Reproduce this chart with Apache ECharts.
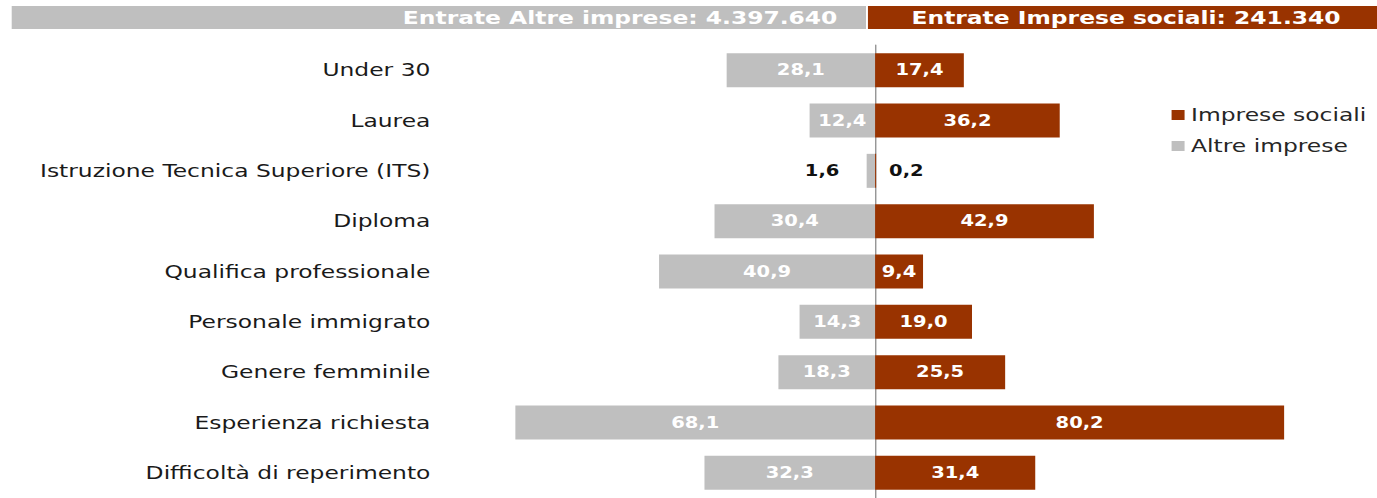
<!DOCTYPE html>
<html>
<head>
<meta charset="utf-8">
<script src="https://cdn.jsdelivr.net/npm/echarts@6/dist/echarts.min.js"></script>
<style>
  html, body { margin: 0; padding: 0; background: #fff; overflow: hidden; }
  /* il grafico originale e' stirato in orizzontale: disegno a 1059px e allargo a 1377px */
  #chart { width: 1059px; height: 498px; transform: scaleX(1.3003); transform-origin: 0 0; }
</style>
</head>
<body>
<div id="chart"></div>
<script>
// categorie e valori (%)
var categories = [
  "Under 30",
  "Laurea",
  "Istruzione Tecnica Superiore (ITS)",
  "Diploma",
  "Qualifica professionale",
  "Personale immigrato",
  "Genere femminile",
  "Esperienza richiesta",
  "Difficoltà di reperimento"
];
var altreImprese = [28.1, 12.4, 1.6, 30.4, 40.9, 14.3, 18.3, 68.1, 32.3];
var impreseSociali = [17.4, 36.2, 0.2, 42.9, 9.4, 19.0, 25.5, 80.2, 31.4];
var headerAltre = "Entrate Altre imprese: 4.397.640";
var headerSociali = "Entrate Imprese sociali: 241.340";

var GRAY = "#BFBFBF";
var RED = "#993300";
var FONT = "DejaVu Sans";

function fmt(v) {
  return v.toFixed(1).replace(".", ",");
}

// valori piccoli: etichetta scura fuori dalla barra
function makeData(values, side) {
  return values.map(function (v) {
    if (v < 3) {
      return {
        value: v,
        label: {
          position: side,
          distance: side == "left" ? 21 : 10,
          color: "#111"
        }
      };
    }
    return v;
  });
}

var barLabel = {
  show: true,
  position: "inside",
  color: "#fff",
  fontFamily: FONT,
  fontWeight: "bold",
  fontSize: 15,
  formatter: function (p) { return fmt(p.value); }
};

var chart = echarts.init(document.getElementById("chart"), null, { renderer: "svg" });
var option = {
  animation: false,
  graphic: [
    { type: "rect", shape: { x: 9, y: 6, width: 657, height: 23 }, style: { fill: GRAY } },
    { type: "rect", shape: { x: 667.5, y: 6, width: 392, height: 23 }, style: { fill: RED } },
    {
      type: "text", x: 644, y: 18,
      style: { text: headerAltre, fill: "#fff", font: "bold 18px " + FONT, align: "right", verticalAlign: "middle" }
    },
    {
      type: "text", x: 701, y: 18,
      style: { text: headerSociali, fill: "#fff", font: "bold 18px " + FONT, align: "left", verticalAlign: "middle" }
    }
  ],
  legend: {
    orient: "vertical",
    left: 896,
    top: 101,
    itemWidth: 10,
    itemHeight: 10,
    itemGap: 13,
    icon: "rect",
    data: ["Imprese sociali", "Altre imprese"],
    textStyle: { fontFamily: FONT, fontSize: 18, color: "#262626" }
  },
  grid: [
    { left: 348, right: 386, top: 45, bottom: 0, outerBoundsMode: "none" },
    { left: 673, right: 33, top: 45, bottom: 0, outerBoundsMode: "none" }
  ],
  xAxis: [
    { gridIndex: 0, type: "value", min: 0, max: 80, inverse: true, show: false },
    { gridIndex: 1, type: "value", min: 0, max: 90, show: false }
  ],
  yAxis: [
    {
      gridIndex: 0,
      type: "category",
      data: categories,
      inverse: true,
      axisLine: { lineStyle: { color: "#8c8c8c", width: 1 } },
      axisTick: { length: 5, lineStyle: { color: "#8c8c8c" } },
      axisLabel: {
        margin: 17,
        fontFamily: FONT,
        fontSize: 18,
        color: "#1a1a1a",
        align: "right"
      }
    },
    {
      gridIndex: 1,
      type: "category",
      data: categories,
      inverse: true,
      show: false
    }
  ],
  series: [
    {
      name: "Altre imprese",
      type: "bar",
      xAxisIndex: 0,
      yAxisIndex: 0,
      barWidth: 34,
      itemStyle: { color: GRAY },
      label: barLabel,
      data: makeData(altreImprese, "left")
    },
    {
      name: "Imprese sociali",
      type: "bar",
      xAxisIndex: 1,
      yAxisIndex: 1,
      barWidth: 34,
      itemStyle: { color: RED },
      label: barLabel,
      data: makeData(impreseSociali, "right")
    }
  ]
};
chart.setOption(option);
</script>
</body>
</html>
